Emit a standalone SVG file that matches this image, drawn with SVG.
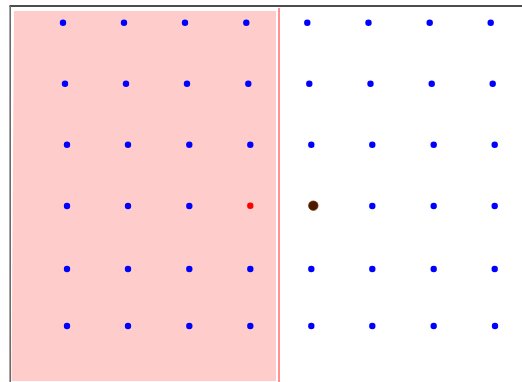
<svg xmlns="http://www.w3.org/2000/svg" width="522" height="382" viewBox="0 0 522 382">
<style>
.dot{fill:#0000ff}
</style>
<rect width="522" height="382" fill="#ffffff"/>
<polygon points="14,11 276,11 276,381 11.5,381" fill="#ffcccc"/>
<line x1="279" y1="8" x2="279" y2="382" stroke="#ff8585" stroke-width="1.8"/>
<line x1="9.5" y1="6" x2="522" y2="6" stroke="#111111" stroke-width="1.3"/>
<line x1="10.2" y1="6" x2="10.2" y2="382" stroke="#6a6a6a" stroke-width="1.6"/>
<g id="dots">
<g id="row1">
<circle class="dot" cx="63" cy="22.7" r="3.2"/><circle class="dot" cx="124" cy="22.7" r="3.2"/><circle class="dot" cx="185" cy="22.7" r="3.2"/><circle class="dot" cx="246.3" cy="22.7" r="3.2"/><circle class="dot" cx="307.3" cy="22.7" r="3.2"/><circle class="dot" cx="368.5" cy="22.7" r="3.2"/><circle class="dot" cx="429.7" cy="22.7" r="3.2"/><circle class="dot" cx="490.7" cy="22.7" r="3.2"/>
</g>
<g id="row2">
<circle class="dot" cx="65" cy="83.7" r="3.2"/><circle class="dot" cx="126" cy="83.7" r="3.2"/><circle class="dot" cx="187" cy="83.7" r="3.2"/><circle class="dot" cx="248.3" cy="83.7" r="3.2"/><circle class="dot" cx="309.3" cy="83.7" r="3.2"/><circle class="dot" cx="370.5" cy="83.7" r="3.2"/><circle class="dot" cx="431.7" cy="83.7" r="3.2"/><circle class="dot" cx="492.7" cy="83.7" r="3.2"/>
</g>
<g id="row3">
<circle class="dot" cx="67" cy="144.7" r="3.2"/><circle class="dot" cx="128" cy="144.7" r="3.2"/><circle class="dot" cx="189.3" cy="144.7" r="3.2"/><circle class="dot" cx="250.3" cy="144.7" r="3.2"/><circle class="dot" cx="311.3" cy="144.7" r="3.2"/><circle class="dot" cx="372.3" cy="144.7" r="3.2"/><circle class="dot" cx="433.7" cy="144.7" r="3.2"/><circle class="dot" cx="494.7" cy="144.7" r="3.2"/>
</g>
<g id="row4">
<circle class="dot" cx="67" cy="206" r="3.2"/><circle class="dot" cx="128" cy="206" r="3.2"/><circle class="dot" cx="189.3" cy="206" r="3.2"/><circle cx="250.3" cy="205.8" r="3.2" fill="#ff0000"/><circle cx="313.3" cy="205.7" r="4.8" fill="#4d1a00" stroke="#6b2a00" stroke-width="0.6"/><circle class="dot" cx="372.3" cy="206" r="3.2"/><circle class="dot" cx="433.7" cy="206" r="3.2"/><circle class="dot" cx="494.7" cy="206" r="3.2"/>
</g>
<g id="row5">
<circle class="dot" cx="67" cy="269" r="3.2"/><circle class="dot" cx="128" cy="269" r="3.2"/><circle class="dot" cx="189.3" cy="269" r="3.2"/><circle class="dot" cx="250.3" cy="269" r="3.2"/><circle class="dot" cx="311.3" cy="269" r="3.2"/><circle class="dot" cx="372.3" cy="269" r="3.2"/><circle class="dot" cx="433.7" cy="269" r="3.2"/><circle class="dot" cx="494.7" cy="269" r="3.2"/>
</g>
<g id="row6">
<circle class="dot" cx="67" cy="326" r="3.2"/><circle class="dot" cx="128" cy="326" r="3.2"/><circle class="dot" cx="189.3" cy="326" r="3.2"/><circle class="dot" cx="250.3" cy="326" r="3.2"/><circle class="dot" cx="311.3" cy="326" r="3.2"/><circle class="dot" cx="372.3" cy="326" r="3.2"/><circle class="dot" cx="433.7" cy="326" r="3.2"/><circle class="dot" cx="495" cy="326" r="3.2"/>
</g>
</g>
</svg>
